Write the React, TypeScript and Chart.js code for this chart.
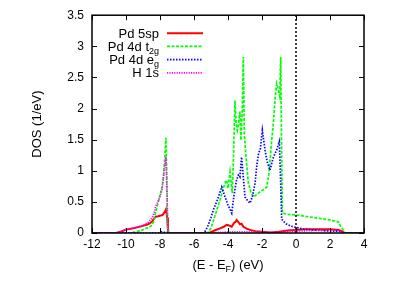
import React, { useEffect, useRef } from "react";
import { Chart, registerables } from "chart.js";
Chart.register(...registerables);

const FONT = "'Liberation Sans', Arial, Helvetica, sans-serif";

// Energy axis
const X_MIN = -12;
const X_MAX = 4;
const X_STEP = 2;
const Y_MIN = 0;
const Y_MAX = 3.5;
const Y_STEP = 0.5;

// Pd 5sp
const sp_E = [-12, -10.6, -10.3, -10.05, -9.5, -9.06, -8.7, -8.47, -8.35, -8.27, -8.1, -7.84, -7.72, -7.65, -7.58, -7.53, -7.5, -5.2, -5.05, -4.8, -4.5, -4.25, -4.08, -3.93, -3.78, -3.65, -3.55, -3.49, -3.4, -3.3, -3.2, -3.1, -2.9, -2.7, -2.4, -2.0, -1.5, -1.0, -0.5, 0, 0.5, 1.0, 1.5, 2.0, 2.5, 2.7, 2.85, 4];
const sp_DOS = [0, 0, 0.02, 0.05, 0.08, 0.11, 0.14, 0.18, 0.23, 0.26, 0.27, 0.29, 0.34, 0.38, 0.25, 0.05, 0, 0, 0.01, 0.04, 0.07, 0.1, 0.13, 0.12, 0.1, 0.16, 0.18, 0.21, 0.18, 0.14, 0.15, 0.1, 0.07, 0.05, 0.03, 0.02, 0.01, 0.02, 0.04, 0.05, 0.06, 0.06, 0.06, 0.06, 0.05, 0.03, 0, 0];

// Pd 4d t2g
const t2g_E = [-12, -9.7, -9.45, -9.1, -8.86, -8.6, -8.47, -8.35, -8.27, -8.07, -7.88, -7.8, -7.73, -7.65, -7.6, -7.56, -7.5, -5.2, -5.0, -4.8, -4.6, -4.47, -4.3, -4.15, -4.08, -4.0, -3.88, -3.75, -3.68, -3.59, -3.52, -3.45, -3.38, -3.3, -3.24, -3.16, -3.1, -3.04, -2.95, -2.8, -2.65, -2.5, -2.3, -2.12, -1.9, -1.72, -1.6, -1.5, -1.43, -1.32, -1.24, -1.14, -1.04, -0.96, -0.9, -0.85, -0.8, -0.5, 0, 0.5, 1.0, 1.5, 2.0, 2.49, 2.6, 2.75, 2.88, 4];
const t2g_DOS = [0, 0, 0.02, 0.04, 0.07, 0.1, 0.13, 0.2, 0.32, 0.53, 0.74, 0.9, 1.17, 1.53, 0.9, 0.1, 0, 0, 0.08, 0.25, 0.42, 0.53, 0.7, 0.82, 0.85, 0.72, 0.98, 0.64, 1.2, 2.13, 1.75, 1.65, 1.75, 1.95, 1.49, 2.0, 2.83, 1.6, 1.25, 0.8, 0.65, 0.58, 0.62, 0.66, 0.7, 0.74, 0.95, 1.25, 1.49, 1.8, 2.13, 2.4, 2.3, 2.2, 2.83, 1.4, 0.32, 0.3, 0.29, 0.27, 0.25, 0.23, 0.21, 0.18, 0.12, 0.06, 0, 0];

// Pd 4d eg
const eg_E = [-12, -8.1, -7.95, -7.8, -7.6, -7.5, -5.4, -5.2, -5.0, -4.86, -4.6, -4.37, -4.2, -4.0, -3.78, -3.65, -3.5, -3.39, -3.3, -3.2, -3.1, -3.0, -2.85, -2.7, -2.55, -2.41, -2.3, -2.2, -2.1, -1.98, -1.82, -1.7, -1.53, -1.35, -1.2, -1.14, -0.98, -0.9, -0.84, -0.6, -0.3, 0, 0.5, 1.0, 1.5, 2.0, 2.5, 2.8, 4];
const eg_DOS = [0, 0, 0.02, 0.01, 0.01, 0, 0, 0.1, 0.25, 0.37, 0.55, 0.74, 0.6, 0.45, 0.32, 0.6, 0.85, 0.93, 0.9, 1.22, 0.9, 0.58, 0.52, 0.48, 0.6, 0.8, 1.1, 1.28, 1.35, 1.65, 1.33, 1.15, 1.01, 1.2, 1.3, 1.33, 1.47, 0.8, 0.22, 0.15, 0.11, 0.09, 0.06, 0.05, 0.04, 0.03, 0.03, 0, 0];

// H 1s
const h1s_E = [-12, -10.6, -10.3, -10.05, -9.5, -9.0, -8.7, -8.45, -8.3, -8.27, -8.07, -7.88, -7.73, -7.65, -7.6, -7.55, -7.5, -5.2, -4.5, -3.5, -3.0, -2.0, -1.0, 0, 1.0, 2.0, 2.5, 2.8, 4];
const h1s_DOS = [0, 0, 0.02, 0.05, 0.08, 0.12, 0.17, 0.25, 0.36, 0.42, 0.53, 0.69, 1.06, 1.22, 0.8, 0.2, 0, 0, 0.01, 0.02, 0.02, 0.01, 0.01, 0.03, 0.04, 0.04, 0.04, 0, 0];

// Fermi level marker
const fermi_E = [0, 0];
const fermi_DOS = [0, 3.5];

const LEGEND_MAIN = ["Pd 5sp", "Pd 4d t", "Pd 4d e", "H 1s"];
const LEGEND_SUB = ["", "2g", "g", ""];
const COLORS = ["#ff0000", "#00ff00", "#0000ff", "#ff00ff"];
const DASHES: number[][] = [[], [3, 1.5], [1.5, 1.5], [1.2, 1.2]];
const WIDTHS = [2, 1.7, 1.7, 1.7];

const Y_TITLE = "DOS (1/eV)";
const X_TITLE_PARTS = ["(E - E", "F", ") (eV)"];

function pts(xs: number[], ys: number[]) {
  return xs.map((x, i) => ({ x, y: ys[i] }));
}

function drawRichRight(ctx: CanvasRenderingContext2D, main: string, sub: string, xRight: number, yBase: number) {
  ctx.font = `13px ${FONT}`;
  const w1 = ctx.measureText(main).width;
  ctx.font = `9px ${FONT}`;
  const w2 = sub ? ctx.measureText(sub).width : 0;
  const x0 = xRight - w1 - w2;
  ctx.font = `13px ${FONT}`;
  ctx.textAlign = "left";
  ctx.textBaseline = "alphabetic";
  ctx.fillText(main, x0, yBase);
  if (sub) {
    ctx.font = `9px ${FONT}`;
    ctx.fillText(sub, x0 + w1, yBase + 3);
  }
}

const decor = {
  id: "decor",
  afterDraw(chart: any) {
    const ctx: CanvasRenderingContext2D = chart.ctx;
    const { left, right, top, bottom } = chart.chartArea;
    const xs = chart.scales.x;
    const ys = chart.scales.y;
    ctx.save();
    ctx.strokeStyle = "#000";
    ctx.lineWidth = 1;
    ctx.setLineDash([]);
    ctx.beginPath();
    for (const t of xs.ticks) {
      const px = Math.round(xs.getPixelForValue(t.value)) + 0.5;
      ctx.moveTo(px, bottom);
      ctx.lineTo(px, bottom - 5);
      ctx.moveTo(px, top);
      ctx.lineTo(px, top + 5);
    }
    for (const t of ys.ticks) {
      const py = Math.round(ys.getPixelForValue(t.value)) + 0.5;
      ctx.moveTo(left, py);
      ctx.lineTo(left + 5, py);
      ctx.moveTo(right, py);
      ctx.lineTo(right - 5, py);
    }
    ctx.stroke();
    ctx.lineWidth = 1.5;
    ctx.strokeRect(left, top, right - left, bottom - top);

    // legend
    ctx.fillStyle = "#000";
    for (let i = 0; i < LEGEND_MAIN.length; i++) {
      const yc = top + 18 + i * 13.2;
      drawRichRight(ctx, LEGEND_MAIN[i], LEGEND_SUB[i], left + 67, yc + 4.5);
      ctx.beginPath();
      ctx.setLineDash(DASHES[i]);
      ctx.strokeStyle = COLORS[i];
      ctx.lineWidth = WIDTHS[i];
      ctx.moveTo(left + 75, yc);
      ctx.lineTo(left + 111, yc);
      ctx.stroke();
    }
    ctx.setLineDash([]);

    // x title with subscript
    ctx.fillStyle = "#000";
    ctx.font = `13px ${FONT}`;
    const a = ctx.measureText(X_TITLE_PARTS[0]).width;
    const c = ctx.measureText(X_TITLE_PARTS[2]).width;
    ctx.font = `9px ${FONT}`;
    const b = ctx.measureText(X_TITLE_PARTS[1]).width;
    const total = a + b + c;
    const x0 = (left + right) / 2 - total / 2;
    const yb = 269;
    ctx.textAlign = "left";
    ctx.textBaseline = "alphabetic";
    ctx.font = `13px ${FONT}`;
    ctx.fillText(X_TITLE_PARTS[0], x0, yb);
    ctx.font = `9px ${FONT}`;
    ctx.fillText(X_TITLE_PARTS[1], x0 + a, yb + 3);
    ctx.font = `13px ${FONT}`;
    ctx.fillText(X_TITLE_PARTS[2], x0 + a + b, yb);

    // y title
    ctx.translate(37, (top + bottom) / 2);
    ctx.rotate(-Math.PI / 2);
    ctx.textAlign = "center";
    ctx.textBaseline = "middle";
    ctx.font = `13px ${FONT}`;
    ctx.fillText(Y_TITLE, 0, 0);
    ctx.restore();
  },
};

export default function App() {
  const ref = useRef<HTMLCanvasElement>(null);
  useEffect(() => {
    document.body.style.margin = "0";
    const tickFont = { family: FONT, size: 12 };
    const mk = (label: string, xs: number[], ysv: number[], color: string, dash: number[], width: number) => ({
      label,
      data: pts(xs, ysv),
      borderColor: color,
      backgroundColor: color,
      borderWidth: width,
      borderDash: dash,
      pointRadius: 0,
      fill: false,
      tension: 0,
    });
    const fmt = (v: number) => String(Math.round(v * 10) / 10);
    const chart = new Chart(ref.current as HTMLCanvasElement, {
      type: "line",
      data: {
        datasets: [
          mk("Fermi", fermi_E, fermi_DOS, "#000", [2, 2], 1.5),
          mk("H 1s", h1s_E, h1s_DOS, COLORS[3], DASHES[3], WIDTHS[3]),
          mk("Pd 4d eg", eg_E, eg_DOS, COLORS[2], DASHES[2], WIDTHS[2]),
          mk("Pd 4d t2g", t2g_E, t2g_DOS, COLORS[1], DASHES[1], WIDTHS[1]),
          mk("Pd 5sp", sp_E, sp_DOS, COLORS[0], DASHES[0], WIDTHS[0]),
        ] as any,
      },
      options: {
        responsive: false,
        animation: false,
        devicePixelRatio: 1,
        layout: { padding: { top: 15, right: 51, left: 0, bottom: 0 } },
        plugins: { legend: { display: false }, tooltip: { enabled: false }, title: { display: false } },
        scales: {
          x: {
            type: "linear",
            min: X_MIN,
            max: X_MAX,
            ticks: { stepSize: X_STEP, font: tickFont, color: "#000", padding: 4, maxRotation: 0, autoSkip: false, callback: (v: any) => fmt(Number(v)) },
            grid: { display: false, drawTicks: false },
            border: { display: false },
            afterFit: (s: any) => {
              s.height = 57;
            },
          },
          y: {
            type: "linear",
            min: Y_MIN,
            max: Y_MAX,
            ticks: { stepSize: Y_STEP, font: tickFont, color: "#000", padding: 8, autoSkip: false, callback: (v: any) => fmt(Number(v)) },
            grid: { display: false, drawTicks: false },
            border: { display: false },
            afterFit: (s: any) => {
              s.width = 92;
            },
          },
        },
      } as any,
      plugins: [decor],
    });
    return () => chart.destroy();
  }, []);
  return (
    <div style={{ position: "absolute", left: 0, top: 0, width: 415, height: 290, background: "#fff" }}>
      <canvas ref={ref} width={415} height={290} style={{ display: "block" }} />
    </div>
  );
}
